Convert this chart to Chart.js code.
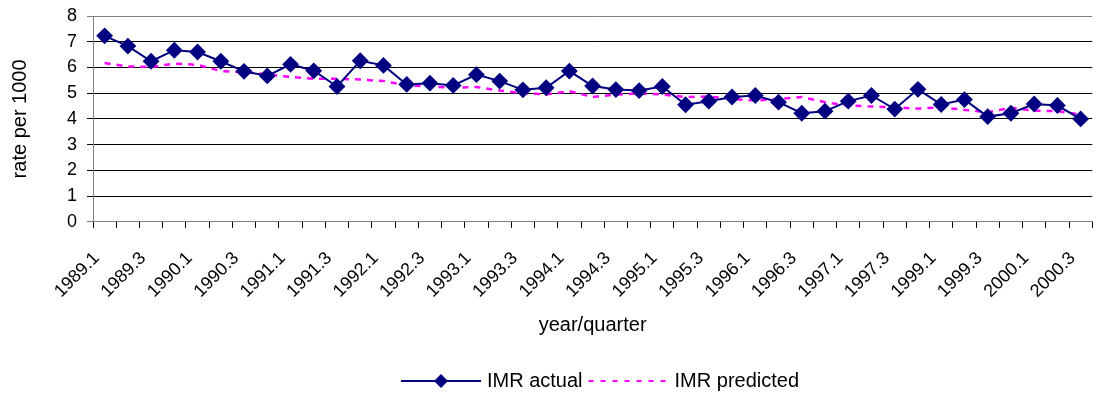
<!DOCTYPE html>
<html lang="en">
<head>
    <meta charset="UTF-8">
    <title>IMR actual vs predicted</title>
    <script src="https://cdn.jsdelivr.net/npm/chart.js"></script>
    <style>
        html, body {
            margin: 0;
            padding: 0;
            background: #ffffff;
        }
        .chart-box {
            width: 1116px;
            height: 393px;
        }
    </style>
</head>
<body>

<div class="chart-box">
    <canvas id="imrChart" width="1116" height="393"></canvas>
</div>

<script>
// quarters (1998 is not in the series)
const quarters = [
    '1989.1', '1989.2', '1989.3', '1989.4',
    '1990.1', '1990.2', '1990.3', '1990.4',
    '1991.1', '1991.2', '1991.3', '1991.4',
    '1992.1', '1992.2', '1992.3', '1992.4',
    '1993.1', '1993.2', '1993.3', '1993.4',
    '1994.1', '1994.2', '1994.3', '1994.4',
    '1995.1', '1995.2', '1995.3', '1995.4',
    '1996.1', '1996.2', '1996.3', '1996.4',
    '1997.1', '1997.2', '1997.3', '1997.4',
    '1999.1', '1999.2', '1999.3', '1999.4',
    '2000.1', '2000.2', '2000.3'
];

const imrActual = [
    7.23, 6.83, 6.24, 6.67, 6.60, 6.24, 5.85, 5.67, 6.12, 5.87, 5.26,
    6.26, 6.08, 5.34, 5.39, 5.30, 5.72, 5.47, 5.13, 5.21, 5.86, 5.28,
    5.14, 5.10, 5.26, 4.55, 4.69, 4.85, 4.91, 4.65, 4.22, 4.30, 4.69,
    4.91, 4.38, 5.15, 4.56, 4.75, 4.09, 4.22, 4.58, 4.52, 4.00
];

const imrPredicted = [
    6.17, 6.04, 6.02, 6.15, 6.10, 5.86, 5.82, 5.73, 5.63, 5.56, 5.56,
    5.53, 5.47, 5.30, 5.26, 5.21, 5.24, 5.10, 5.00, 4.95, 5.08, 4.85,
    4.95, 4.99, 4.95, 4.85, 4.87, 4.78, 4.71, 4.78, 4.85, 4.65, 4.52,
    4.48, 4.45, 4.40, 4.45, 4.35, 4.26, 4.43, 4.32, 4.30, 4.17
];

const yTicks = [0, 1, 2, 3, 4, 5, 6, 7, 8];

const navy = '#000080';
const magenta = '#FF00FF';
const fontFamily = "'Liberation Sans', Arial, sans-serif";

// little legend pictures: line with a diamond, and a dashed line
function legendSwatch(withDiamond, dash, color) {
    const c = document.createElement('canvas');
    c.width = 82;
    c.height = 16;
    const g = c.getContext('2d');
    g.strokeStyle = color;
    g.lineWidth = 2;
    g.setLineDash(dash);
    g.beginPath();
    g.moveTo(1, 8);
    g.lineTo(81, 8);
    g.stroke();
    if (withDiamond) {
        g.setLineDash([]);
        g.fillStyle = color;
        g.beginPath();
        g.moveTo(41, 1);
        g.lineTo(48, 8);
        g.lineTo(41, 15);
        g.lineTo(34, 8);
        g.closePath();
        g.fill();
    }
    return c;
}

const swatches = [
    legendSwatch(true, [], navy),
    legendSwatch(false, [5, 7], magenta)
];

// the legend sits a bit right of the page centre and close to the bottom
const legendShift = {
    id: 'legendShift',
    afterLayout(chart) {
        const lg = chart.legend;
        lg.left += 45;
        lg.right += 45;
        lg.top += 8;
        lg.bottom += 8;
    }
};

const ctx = document.getElementById('imrChart').getContext('2d');
new Chart(ctx, {
    type: 'line',
    data: {
        labels: quarters,
        datasets: [
            {
                label: 'IMR actual',
                data: imrActual,
                borderColor: navy,
                backgroundColor: navy,
                borderWidth: 2,
                pointStyle: 'rectRot',
                pointRadius: 7,
                pointHoverRadius: 7,
                tension: 0
            },
            {
                label: 'IMR predicted',
                data: imrPredicted,
                borderColor: magenta,
                backgroundColor: magenta,
                borderWidth: 2.5,
                borderDash: [6, 6],
                pointRadius: 0,
                tension: 0
            }
        ]
    },
    plugins: [legendShift],
    options: {
        responsive: false,
        animation: false,
        layout: {
            padding: { top: 16, right: 2, left: 0, bottom: 0 }
        },
        plugins: {
            legend: {
                position: 'bottom',
                labels: {
                    usePointStyle: true,
                    pointStyleWidth: 72,
                    color: '#000',
                    font: { family: fontFamily, size: 20 },
                    padding: 10,
                    generateLabels: chart => chart.data.datasets.map((ds, i) => ({
                        text: ds.label,
                        pointStyle: swatches[i],
                        fillStyle: ds.borderColor,
                        strokeStyle: ds.borderColor,
                        lineWidth: 0,
                        hidden: false,
                        datasetIndex: i
                    }))
                }
            },
            tooltip: { enabled: false }
        },
        scales: {
            x: {
                offset: true,
                // rotated labels reserve more room than they use
                afterFit: axis => {
                    axis.height -= 14;
                },
                grid: {
                    offset: true,
                    drawOnChartArea: false,
                    drawTicks: true,
                    tickLength: 6,
                    color: '#000'
                },
                border: { color: '#808080' },
                ticks: {
                    autoSkip: false,
                    maxRotation: 45,
                    minRotation: 45,
                    padding: 20,
                    labelOffset: -8,
                    color: '#000',
                    font: { family: fontFamily, size: 18 },
                    callback: function (value, index) {
                        return index % 2 === 0 ? this.getLabelForValue(value) : '';
                    }
                },
                title: {
                    display: true,
                    text: 'year/quarter',
                    color: '#000',
                    font: { family: fontFamily, size: 20 },
                    padding: { top: 5, bottom: 16 }
                }
            },
            y: {
                min: 0,
                max: 8,
                afterBuildTicks: axis => {
                    axis.ticks = yTicks.map(v => ({ value: v }));
                },
                afterFit: axis => {
                    axis.paddingTop = 0;
                },
                grid: {
                    color: c => (c.tick && (c.tick.value === 8 || c.tick.value === 0)) ? '#808080' : '#000',
                    lineWidth: 1,
                    tickLength: 6
                },
                border: { color: '#808080' },
                ticks: {
                    autoSkip: false,
                    color: '#000',
                    padding: 10,
                    font: { family: fontFamily, size: 18 }
                },
                title: {
                    display: true,
                    text: 'rate per 1000',
                    color: '#000',
                    font: { family: fontFamily, size: 20 },
                    padding: { top: 8, bottom: 25 }
                }
            }
        }
    }
});
</script>
</body>
</html>
